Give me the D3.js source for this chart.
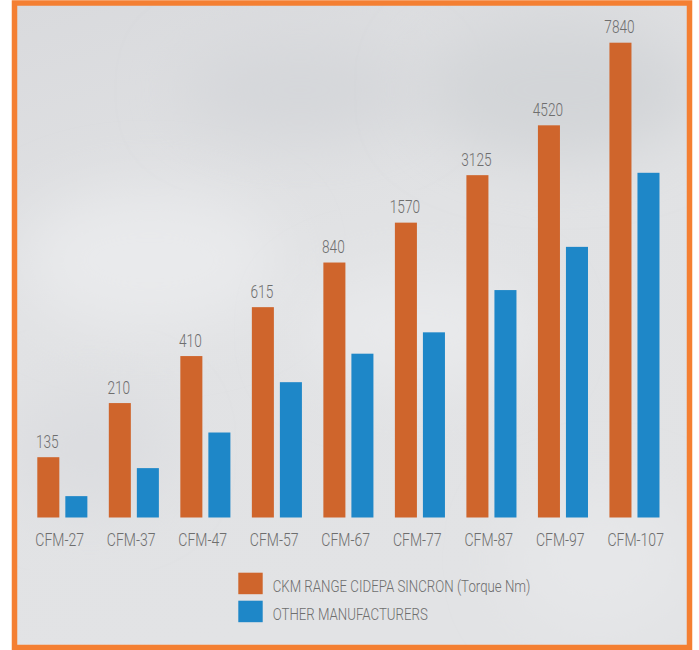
<!DOCTYPE html>
<html>
<head>
<meta charset="utf-8">
<script src="https://cdn.jsdelivr.net/npm/d3@7"></script>
<style>
    body { margin: 0; background: #ffffff; }
    text { font-family: Roboto, "Noto Sans", sans-serif; font-weight: 300; fill: #6e6e6e; }
</style>
</head>
<body>
<div id="chart"></div>
<script>
//Chart data
var categories = ["CFM-27", "CFM-37", "CFM-47", "CFM-57", "CFM-67", "CFM-77", "CFM-87", "CFM-97", "CFM-107"];
var ckmTorque = [135, 210, 410, 615, 840, 1570, 3125, 4520, 7840];
//Bar heights as drawn (percent of tallest bar)
var ckmLevel = [12.7, 24.1, 34.0, 44.3, 53.7, 62.1, 72.1, 82.6, 100];
var otherLevel = [4.5, 10.4, 17.9, 28.5, 34.5, 39.0, 47.9, 57.0, 72.6];
var seriesNames = ["CKM RANGE CIDEPA SINCRON (Torque Nm)", "OTHER MANUFACTURERS"];
var seriesKeys = ["ckm", "other"];
var seriesColors = ["#cf652c", "#1e87c8"];

//Condensed look: squeeze text horizontally
var squeeze = 0.78;

//SVG dimensions
var svgWidth = 699;
var svgHeight = 650;

var svg = d3.select("#chart")
    .append("svg")
    .attr("width", svgWidth)
    .attr("height", svgHeight);

//Cloudy grey background
var defs = svg.append("defs");
var bg = defs.append("linearGradient")
    .attr("id", "bg")
    .attr("x1", 0).attr("y1", 0).attr("x2", 0.3).attr("y2", 1);
bg.append("stop").attr("offset", "0%").attr("stop-color", "#d9dadd");
bg.append("stop").attr("offset", "45%").attr("stop-color", "#e1e2e4");
bg.append("stop").attr("offset", "100%").attr("stop-color", "#e2e3e5");

defs.append("filter")
    .attr("id", "blur")
    .attr("x", "-50%").attr("y", "-50%").attr("width", "200%").attr("height", "200%")
    .append("feGaussianBlur")
    .attr("stdDeviation", 30);

defs.append("clipPath")
    .attr("id", "frame")
    .append("rect")
    .attr("x", 14).attr("y", 3).attr("width", 676).attr("height", 644);

var bgGroup = svg.append("g").attr("clip-path", "url(#frame)");
bgGroup.append("rect")
    .attr("x", 14).attr("y", 3).attr("width", 676).attr("height", 644)
    .attr("fill", "url(#bg)");

var clouds = [
    {cx: 150, cy: 260, rx: 130, ry: 70, c: "#e9eaec"},
    {cx: 300, cy: 90, rx: 120, ry: 50, c: "#d5d7da"},
    {cx: 560, cy: 90, rx: 140, ry: 70, c: "#d3d5d8"},
    {cx: 420, cy: 330, rx: 120, ry: 60, c: "#e8e9eb"},
    {cx: 90, cy: 450, rx: 80, ry: 60, c: "#dcdde0"},
    {cx: 600, cy: 560, rx: 90, ry: 70, c: "#e6e7e9"}
];
bgGroup.selectAll("ellipse")
    .data(clouds)
    .enter()
    .append("ellipse")
    .attr("cx", d => d.cx)
    .attr("cy", d => d.cy)
    .attr("rx", d => d.rx)
    .attr("ry", d => d.ry)
    .attr("fill", d => d.c)
    .attr("filter", "url(#blur)");

//Orange frame
svg.append("rect")
    .attr("x", 14.5)
    .attr("y", 3)
    .attr("width", 675)
    .attr("height", 644.5)
    .attr("fill", "none")
    .attr("stroke", "#f47f32")
    .attr("stroke-width", 5.5);

//Scales
var x0 = d3.scaleBand()
    .domain(categories)
    .range([37.3, 659.5])
    .paddingInner(0.3)
    .paddingOuter(0);

var x1 = d3.scaleBand()
    .domain(seriesKeys)
    .range([0, x0.bandwidth()])
    .paddingInner(0.214)
    .paddingOuter(0);

var yScale = d3.scaleLinear()
    .domain([0, 100])
    .range([517.5, 42.7]);

var color = d3.scaleOrdinal()
    .domain(seriesKeys)
    .range(seriesColors);

var data = categories.map((c, i) => ({
    category: c,
    torque: ckmTorque[i],
    ckm: ckmLevel[i],
    other: otherLevel[i]
}));

//Bars
var groups = svg.selectAll(".group")
    .data(data)
    .enter()
    .append("g")
    .attr("class", "group")
    .attr("transform", d => `translate(${x0(d.category)}, 0)`);

groups.selectAll("rect")
    .data(d => seriesKeys.map(k => ({key: k, value: d[k]})))
    .enter()
    .append("rect")
    .attr("x", d => x1(d.key))
    .attr("y", d => yScale(d.value))
    .attr("width", x1.bandwidth())
    .attr("height", d => yScale(0) - yScale(d.value))
    .attr("fill", d => color(d.key));

//Torque labels above orange bars
groups.append("text")
    .attr("transform", d => `translate(${x1("ckm") + x1.bandwidth() / 2 - 1}, ${yScale(d.ckm) - 9.5}) scale(${squeeze}, 1)`)
    .attr("text-anchor", "middle")
    .attr("font-size", "17.5px")
    .text(d => d.torque);

//Category axis
var xAxis = svg.append("g")
    .attr("transform", `translate(0, ${yScale(0)})`)
    .call(d3.axisBottom(x0).tickSize(0).tickPadding(0));

xAxis.select(".domain").remove();
xAxis.selectAll("text")
    .attr("text-anchor", "start")
    .attr("y", null)
    .attr("dy", null)
    .attr("transform", `translate(${-x0.bandwidth() / 2 - 2}, 28.5) scale(${squeeze}, 1)`)
    .attr("font-size", "18px")
    .attr("font-family", null)
    .attr("fill", null);
xAxis.attr("font-family", null).attr("font-size", null);

//Legend
var legend = svg.append("g")
    .attr("transform", "translate(238.3, 572.7)");

var legendItems = legend.selectAll(".legend-item")
    .data(seriesKeys)
    .enter()
    .append("g")
    .attr("class", "legend-item")
    .attr("transform", (d, i) => `translate(0, ${i * 28})`);

legendItems.append("rect")
    .attr("width", 24.4)
    .attr("height", 21.5)
    .attr("fill", d => color(d));

legendItems.append("text")
    .attr("transform", `translate(34.4, 18.8) scale(${squeeze}, 1)`)
    .attr("font-size", "17px")
    .text((d, i) => seriesNames[i]);
</script>
</body>
</html>
